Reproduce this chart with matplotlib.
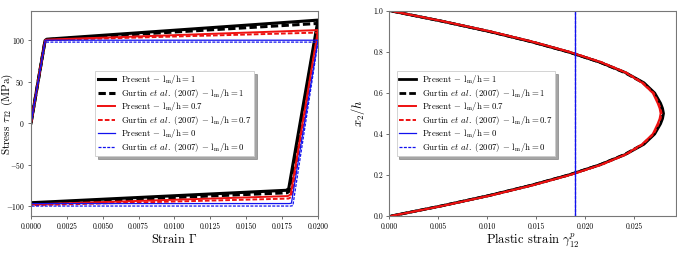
import matplotlib
matplotlib.use("Agg")
import matplotlib.pyplot as plt
from matplotlib.ticker import FuncFormatter

plt.rcParams['font.family'] = ['serif']
plt.rcParams['font.serif'] = ['cmr10', 'DejaVu Serif']
plt.rcParams['mathtext.fontset'] = 'cm'
plt.rcParams['axes.unicode_minus'] = False
plt.rcParams['axes.formatter.use_mathtext'] = True

# ---------------- Left panel: stress-strain loops ----------------
strain_black = [0.0, 0.00098, 0.0011, 0.0200, 0.01796, 0.01780, 0.0]
stress_black = [0.0, 99.5, 101.0, 124.0, -79.0, -81.0, -96.0]
strain_black_g = [0.0, 0.00098, 0.0011, 0.0200, 0.01800, 0.01785, 0.0]
stress_black_g = [0.0, 99.5, 100.5, 120.0, -82.0, -84.0, -97.0]
strain_red = [0.0, 0.00098, 0.0011, 0.0200, 0.01810, 0.01790, 0.0]
stress_red = [0.0, 99.5, 100.5, 112.0, -86.0, -88.0, -98.0]
strain_red_g = [0.0, 0.00098, 0.0011, 0.0200, 0.01815, 0.01795, 0.0]
stress_red_g = [0.0, 99.5, 100.0, 109.0, -89.0, -91.0, -99.0]
strain_blue = [0.0, 0.00098, 0.0011, 0.0200, 0.01815, 0.01800, 0.0]
stress_blue = [0.0, 99.5, 99.8, 99.8, -96.5, -97.0, -97.0]
strain_blue_g = [0.0, 0.00098, 0.0011, 0.0200, 0.01825, 0.01810, 0.0]
stress_blue_g = [0.0, 97.5, 97.5, 97.5, -99.5, -100.0, -100.0]

# ---------------- Right panel: plastic strain profiles ----------------
x2h = [0.0, 0.05, 0.10, 0.15, 0.20, 0.25, 0.30, 0.35, 0.40, 0.45, 0.475, 0.50,
       0.525, 0.55, 0.60, 0.65, 0.70, 0.75, 0.80, 0.85, 0.90, 0.95, 1.0]
gp_black = [0.0002, 0.0054, 0.0102, 0.0145, 0.0183, 0.0215, 0.0241, 0.0260, 0.0271, 0.0277, 0.0279, 0.0280,
            0.0279, 0.0277, 0.0271, 0.0260, 0.0241, 0.0215, 0.0183, 0.0145, 0.0102, 0.0054, 0.0002]
gp_black_g = [0.0002, 0.0054, 0.0102, 0.0145, 0.0183, 0.0215, 0.0240, 0.0259, 0.0270, 0.0276, 0.0278, 0.0279,
              0.0278, 0.0276, 0.0270, 0.0259, 0.0240, 0.0215, 0.0183, 0.0145, 0.0102, 0.0054, 0.0002]
gp_red = [0.0002, 0.0055, 0.0103, 0.0146, 0.0184, 0.0216, 0.0241, 0.0258, 0.0269, 0.0274, 0.0276, 0.0277,
          0.0276, 0.0274, 0.0269, 0.0258, 0.0241, 0.0216, 0.0184, 0.0146, 0.0103, 0.0055, 0.0002]
gp_red_g = [0.0002, 0.0055, 0.0104, 0.0147, 0.0185, 0.0217, 0.0242, 0.0259, 0.0270, 0.0275, 0.0277, 0.0278,
            0.0277, 0.0275, 0.0270, 0.0259, 0.0242, 0.0217, 0.0185, 0.0147, 0.0104, 0.0055, 0.0002]
x2h_blue = [0.0, 1.0]
gp_blue = [0.0190, 0.0190]
gp_blue_g = [0.0190, 0.0190]

labels = [r"Present $-$ $\mathrm{l_m/h}=1$",
          r"Gurtin $et$ $al.$ (2007) $-$ $\mathrm{l_m/h}=1$",
          r"Present $-$ $\mathrm{l_m/h}=0.7$",
          r"Gurtin $et$ $al.$ (2007) $-$ $\mathrm{l_m/h}=0.7$",
          r"Present $-$ $\mathrm{l_m/h}=0$",
          r"Gurtin $et$ $al.$ (2007) $-$ $\mathrm{l_m/h}=0$"]

fig = plt.figure(figsize=(6.77, 2.63), dpi=100)
ax1 = fig.add_axes([0.0458, 0.1787, 0.4239, 0.7795])
ax2 = fig.add_axes([0.575, 0.1787, 0.4239, 0.7795])

dash = (0, (2.4, 1.1))

def style(ax):
    for s in ax.spines.values():
        s.set_color('#777777')
        s.set_linewidth(0.8)
    ax.tick_params(labelsize=5.5, length=2.5, width=0.6, color='#555555', pad=2)

legkw = dict(fontsize=6.3, shadow=True, fancybox=False, edgecolor='#cccccc',
             framealpha=1, handlelength=1.9, handletextpad=0.7,
             borderpad=0.3, labelspacing=0.05)

# left
ax1.plot(strain_black, stress_black, color='black', lw=2.2, label=labels[0])
ax1.plot(strain_black_g, stress_black_g, color='black', lw=2.2, ls=dash, label=labels[1])
ax1.plot(strain_red, stress_red, color='#ee1111', lw=1.4, label=labels[2])
ax1.plot(strain_red_g, stress_red_g, color='#ee1111', lw=1.4, ls=dash, label=labels[3])
ax1.plot(strain_blue, stress_blue, color='#1111ee', lw=0.9, label=labels[4])
ax1.plot(strain_blue_g, stress_blue_g, color='#1111ee', lw=0.9, ls=dash, label=labels[5])
ax1.set_xlim(0, 0.02)
ax1.set_ylim(-112, 135)
ax1.set_xticks([0, 0.0025, 0.005, 0.0075, 0.01, 0.0125, 0.015, 0.0175, 0.02])
ax1.set_yticks([-100, -50, 0, 50, 100])
ax1.xaxis.set_major_formatter(FuncFormatter(lambda v, p: f"{v:.4f}"))
ax1.yaxis.set_major_formatter(FuncFormatter(lambda v, p: f"${v:g}$"))
ax1.set_xlabel(r"Strain $\Gamma$", fontsize=9, labelpad=2)
ax1.set_ylabel(r"Stress $\tau_{12}$ (MPa)", fontsize=8)
ax1.yaxis.set_label_coords(-0.056, 0.5)
style(ax1)
leg1 = ax1.legend(loc='center', **legkw)
leg1.get_frame().set_linewidth(0.6)

# right
ax2.plot(gp_black, x2h, color='black', lw=2.0, label=labels[0])
ax2.plot(gp_black_g, x2h, color='black', lw=2.0, ls=dash, label=labels[1])
ax2.plot(gp_red, x2h, color='#ee1111', lw=1.4, label=labels[2])
ax2.plot(gp_red_g, x2h, color='#ee1111', lw=1.4, ls=dash, label=labels[3])
ax2.plot(gp_blue, x2h_blue, color='#1111ee', lw=0.9, label=labels[4])
ax2.plot(gp_blue_g, x2h_blue, color='#1111ee', lw=0.9, ls=dash, label=labels[5])
ax2.set_xlim(0, 0.0293)
ax2.set_ylim(0, 1)
ax2.set_xticks([0, 0.005, 0.01, 0.015, 0.02, 0.025])
ax2.set_yticks([0, 0.2, 0.4, 0.6, 0.8, 1.0])
ax2.xaxis.set_major_formatter(FuncFormatter(lambda v, p: f"{v:.3f}"))
ax2.yaxis.set_major_formatter(FuncFormatter(lambda v, p: f"{v:.1f}"))
ax2.set_xlabel(r"Plastic strain $\gamma^p_{12}$", fontsize=9, labelpad=1)
ax2.set_ylabel(r"$x_2/h$", fontsize=9)
ax2.yaxis.set_label_coords(-0.078, 0.5)
style(ax2)
leg2 = ax2.legend(loc='center left', bbox_to_anchor=(0.01, 0.5), **legkw)
leg2.get_frame().set_linewidth(0.6)

fig.savefig("out.png", dpi=100)
